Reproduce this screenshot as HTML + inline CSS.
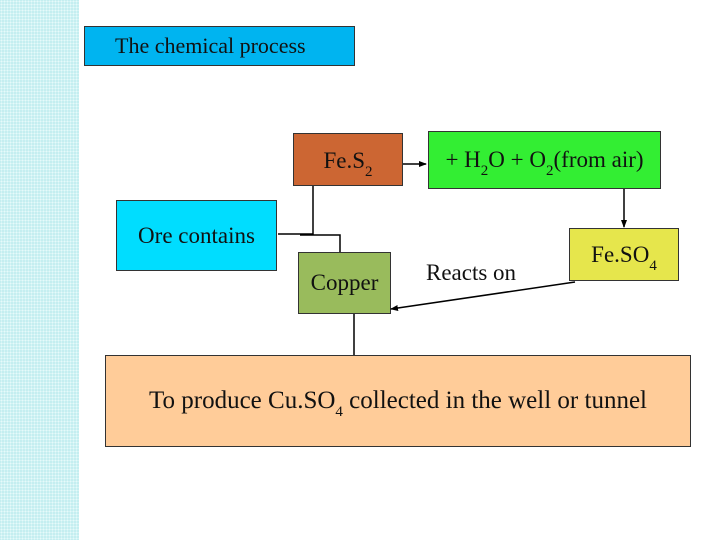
<!DOCTYPE html>
<html><head><style>
body{margin:0;width:720px;height:540px;background:#fff;position:relative;overflow:hidden;font-family:"Liberation Serif",serif;color:#111}
.b{position:absolute;box-sizing:border-box;border:1px solid #333;display:flex;align-items:center;justify-content:center;font-size:23px}
.s{font-size:15px;position:relative;top:8px}
</style></head><body>
<div style="position:absolute;left:0;top:0;width:79px;height:540px;background-color:#c4eef0;background-image:radial-gradient(#e6fafa 0.8px,transparent 1px);background-size:3px 3px"></div>
<div class="b" style="left:84px;top:26px;width:271px;height:40px;background:#00b4f0;font-size:22px;justify-content:flex-start;padding-left:30px"><span>The chemical process</span></div>
<div class="b" style="left:293px;top:133px;width:110px;height:53px;background:#cc6633;align-items:flex-start;padding-top:14px"><span>Fe.S<span class="s">2</span></span></div>
<div class="b" style="left:428px;top:131px;width:233px;height:58px;background:#33ee33;"><span>+ H<span class="s">2</span>O + O<span class="s">2</span>(from air)</span></div>
<div class="b" style="left:116px;top:200px;width:161px;height:71px;background:#00ddff;"><span>Ore contains</span></div>
<div class="b" style="left:298px;top:252px;width:93px;height:62px;background:#99bb5c;"><span>Copper</span></div>
<div class="b" style="left:569px;top:228px;width:110px;height:53px;background:#e6e64c;"><span>Fe.SO<span class="s">4</span></span></div>
<div style="position:absolute;left:426px;top:260px;font-size:23px">Reacts on</div>
<div class="b" style="left:105px;top:355px;width:586px;height:92px;background:#ffcc99;font-size:25px"><span>To produce Cu.SO<span class="s">4</span> collected in the well or tunnel</span></div>
<svg width="720" height="540" style="position:absolute;left:0;top:0">
<defs><marker id="a" markerWidth="8" markerHeight="8" refX="7" refY="4" orient="auto" markerUnits="userSpaceOnUse"><path d="M0,1 L8,4 L0,7z" fill="#000"/></marker></defs>
<g stroke="#000" stroke-width="1.5" fill="none">
<path d="M278,234 H313 V186"/>
<path d="M300,235 H340 V252"/>
<path d="M354,314 V355"/>
<path d="M403,164 H426" marker-end="url(#a)"/>
<path d="M624,189 V227" marker-end="url(#a)"/>
<path d="M575,282 L391,309" marker-end="url(#a)"/>
</g></svg>
</body></html>
